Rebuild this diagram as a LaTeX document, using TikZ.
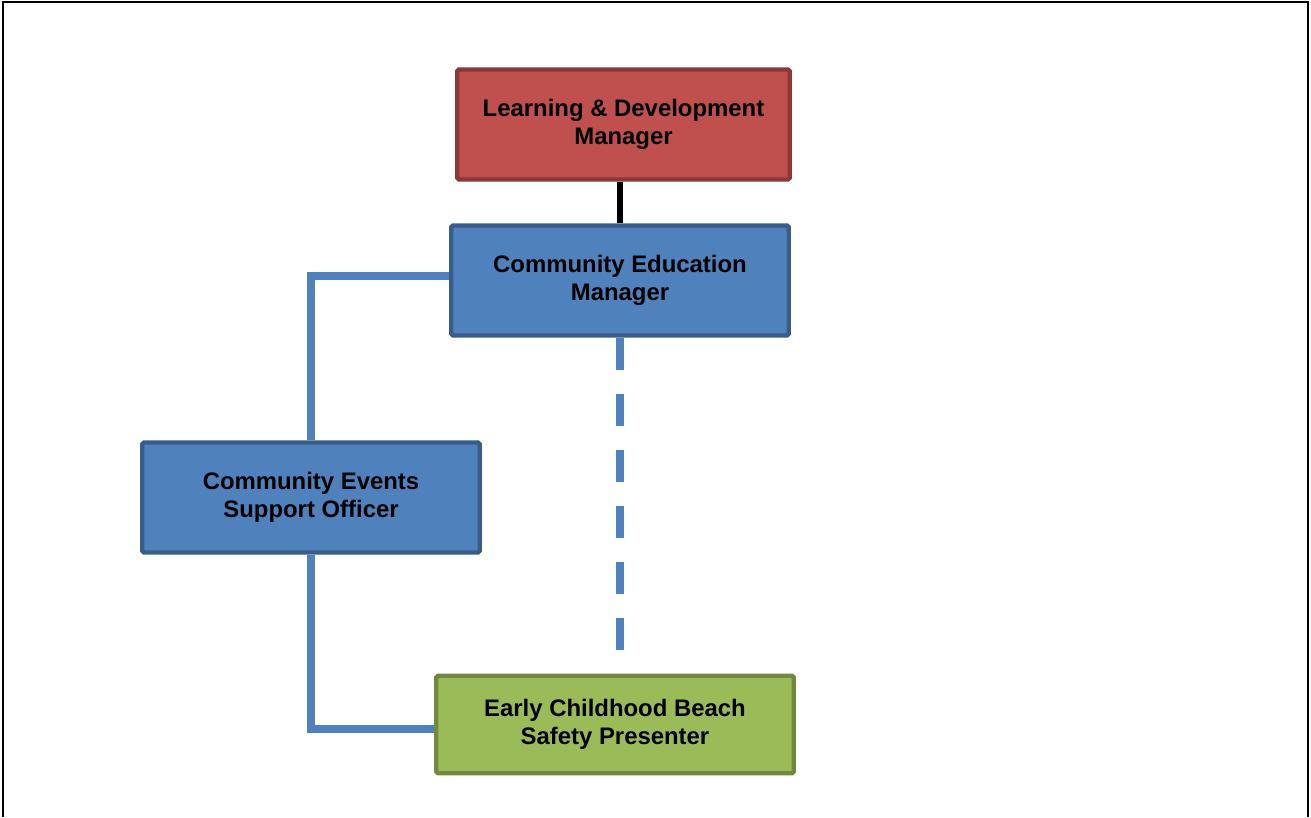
\documentclass[tikz,border=0pt]{standalone}
\usepackage{fontspec}
\setmainfont{Liberation Sans}
\usepackage{tikz}
\usetikzlibrary{positioning,backgrounds}
\usepackage{xcolor}
\definecolor{orgred}{RGB}{192,80,77}
\definecolor{orgredline}{RGB}{140,56,54}
\definecolor{orgblue}{RGB}{79,129,189}
\definecolor{orgblueline}{RGB}{56,93,138}
\definecolor{orggreen}{RGB}{155,187,89}
\definecolor{orggreenline}{RGB}{113,137,63}
\tikzstyle{rolebox} = [rectangle, minimum width=6.65cm, minimum height=2.2cm, text centered, align=center, line width=2.5pt, rounded corners=1pt, font=\fontsize{13.6}{16.2}\selectfont\bfseries]
\tikzstyle{link} = [line width=4pt, color=orgblue]
\tikzstyle{toplink} = [line width=3.5pt, color=black]
\tikzstyle{dottedlink} = [line width=4pt, color=orgblue, dash pattern=on 0.64cm off 0.48cm]

\begin{document}
\begin{tikzpicture}
\useasboundingbox (0,0) rectangle (26.22,16.34);
% Frame
\draw[line width=1.5pt] (0.06,0) -- (0.06,16.30) -- (26.16,16.30) -- (26.16,0);

% Roles
\node[rolebox, fill=orgred, draw=orgredline] (ldm) at (12.47,13.85) {Learning \& Development\\Manager};
\node[rolebox, fill=orgblue, draw=orgblueline, minimum width=6.75cm] (cem) at (12.40,10.73) {Community Education\\Manager};
\node[rolebox, fill=orgblue, draw=orgblueline, minimum width=6.75cm] (ceso) at (6.22,6.39) {Community Events\\Support Officer};
\node[rolebox, fill=orggreen, draw=orggreenline, minimum width=7.15cm, minimum height=1.95cm] (ecbsp) at (12.30,1.85) {Early Childhood Beach\\Safety Presenter};

% Reporting lines
\begin{scope}[on background layer]
\draw[toplink] (cem.north |- ldm.south) -- (cem.north);
\draw[link] ([yshift=0.09cm]cem.west) -| (ceso.north);
\draw[link] (ceso.south) |- ([yshift=-0.09cm]ecbsp.west);
\draw[dottedlink] (cem.south) -- (cem.south |- ecbsp.north);
\end{scope}
\end{tikzpicture}
\end{document}
